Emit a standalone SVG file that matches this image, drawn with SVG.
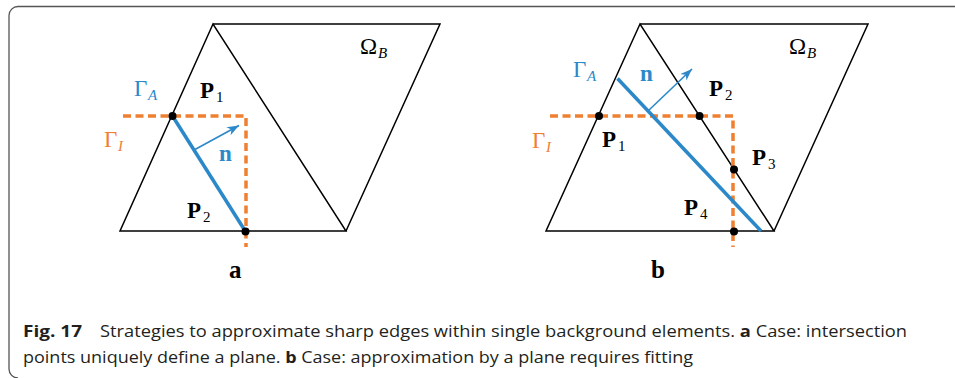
<svg xmlns="http://www.w3.org/2000/svg" width="955" height="378" viewBox="0 0 955 378">
<style>
.edge{fill:none;stroke:#000;stroke-width:1.5;stroke-linejoin:miter}
.gi{fill:none;stroke:#ef7f31;stroke-width:3.5;stroke-dasharray:8 4.5}
.ga{stroke:#2b88c9;stroke-width:3.5;fill:none}
.nv{stroke:#2b88c9;stroke-width:1.6;fill:none}
.dot{fill:#000}
.m{font-family:"Liberation Serif","DejaVu Serif",serif;font-size:23px}
.b{font-weight:bold}
.s{font-size:15px}
.i{font-style:italic}
.lbl{font-size:25px}
.blue{fill:#2b88c9}
.orange{fill:#ef7f31}
.cap{font-family:"Open Sans","Noto Sans","Liberation Sans",sans-serif;font-size:16px;fill:#231f20}
</style>
<defs>
<marker id="ah" markerUnits="userSpaceOnUse" markerWidth="14" markerHeight="10" refX="12" refY="4.5" orient="auto">
<path d="M0,0 L12,4.5 L0,9 L3.5,4.5 Z" fill="#2b88c9"/>
</marker>
</defs>
<path d="M955,6.5 H18 A9,9 0 0 0 9,15.5 V369 A9,9 0 0 0 18,378" fill="none" stroke="#555" stroke-width="1.3"/>

<g id="panel-a">
<g id="a-elements">
<path class="edge" d="M213,24 L120,231 L346,231 Z"/>
<path class="edge" d="M213,24 L440,24 L346,231"/>
</g>
<g id="a-connectors">
<path class="gi" d="M123,116 H246 V247"/>
<line class="ga" x1="172.5" y1="116" x2="245.5" y2="231.5"/>
<line class="nv" x1="195" y1="149.5" x2="239" y2="125.5" marker-end="url(#ah)"/>
</g>
<g id="a-points">
<circle class="dot" cx="172.5" cy="116" r="4"/>
<circle class="dot" cx="245.5" cy="231.5" r="4"/>
</g>
<g id="a-labels">
<text class="m blue" x="134" y="96">Γ<tspan class="s i" x="148" y="100">A</tspan></text>
<text class="m" x="200" y="98"><tspan class="b">P</tspan><tspan class="s" x="216" y="102">1</tspan></text>
<text class="m orange" x="104" y="147">Γ<tspan class="s i" x="118" y="151">I</tspan></text>
<text class="m b blue" x="219" y="161">n</text>
<text class="m" x="187" y="218"><tspan class="b">P</tspan><tspan class="s" x="203" y="222">2</tspan></text>
<text class="m" x="360" y="54">Ω<tspan class="s i" x="378" y="58">B</tspan></text>
<text class="m b lbl" x="229" y="278">a</text>
</g>
</g>

<g id="panel-b">
<g id="b-elements">
<path class="edge" d="M640,24 L546,231 L774,231 Z"/>
<path class="edge" d="M640,24 L868,24 L774,231"/>
</g>
<g id="b-connectors">
<path class="gi" d="M550,116 H733 V247"/>
<line class="ga" x1="617.5" y1="78.5" x2="761" y2="231"/>
<line class="nv" x1="648" y1="111" x2="692" y2="69" marker-end="url(#ah)"/>
</g>
<g id="b-points">
<circle class="dot" cx="599" cy="116" r="4"/>
<circle class="dot" cx="699.5" cy="116" r="4"/>
<circle class="dot" cx="734" cy="169.5" r="4"/>
<circle class="dot" cx="734" cy="231.5" r="4"/>
</g>
<g id="b-labels">
<text class="m blue" x="573" y="77">Γ<tspan class="s i" x="587" y="81">A</tspan></text>
<text class="m b blue" x="640" y="81">n</text>
<text class="m" x="709" y="96"><tspan class="b">P</tspan><tspan class="s" x="725" y="100">2</tspan></text>
<text class="m" x="602" y="147"><tspan class="b">P</tspan><tspan class="s" x="618" y="151">1</tspan></text>
<text class="m orange" x="532" y="148">Γ<tspan class="s i" x="546" y="152">I</tspan></text>
<text class="m" x="752" y="165"><tspan class="b">P</tspan><tspan class="s" x="768" y="169">3</tspan></text>
<text class="m" x="684" y="215"><tspan class="b">P</tspan><tspan class="s" x="700" y="219">4</tspan></text>
<text class="m" x="789" y="54">Ω<tspan class="s i" x="807" y="58">B</tspan></text>
<text class="m b lbl" x="651" y="278">b</text>
</g>
</g>

<g id="caption">
<text class="cap" x="23" y="337" font-weight="bold" textLength="59" lengthAdjust="spacingAndGlyphs">Fig. 17</text>
<text class="cap" x="100" y="337" textLength="807" lengthAdjust="spacingAndGlyphs">Strategies to approximate sharp edges within single background elements. <tspan font-weight="bold">a</tspan> Case: intersection</text>
<text class="cap" x="23" y="363" textLength="670" lengthAdjust="spacingAndGlyphs">points uniquely define a plane. <tspan font-weight="bold">b</tspan> Case: approximation by a plane requires fitting</text>
</g>
</svg>
